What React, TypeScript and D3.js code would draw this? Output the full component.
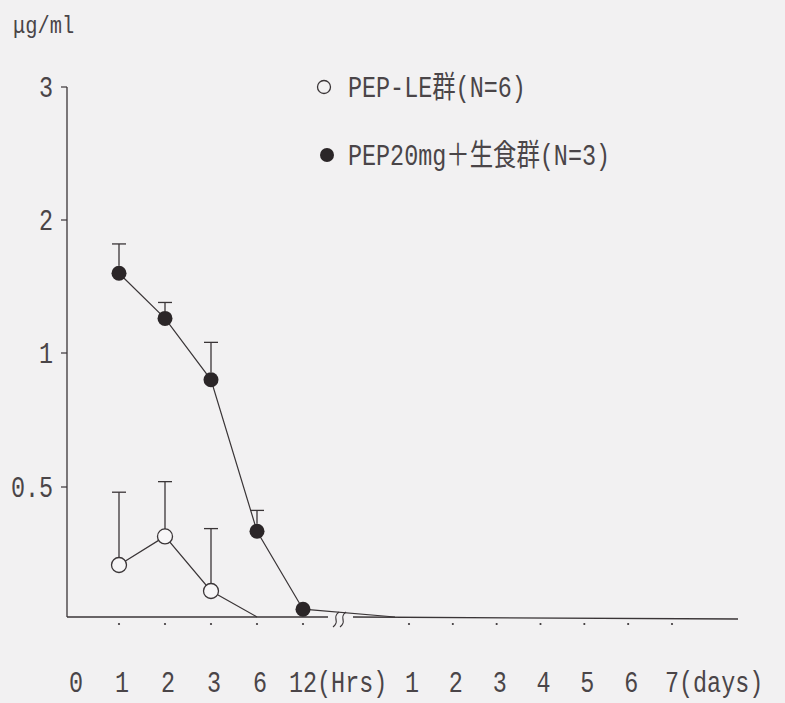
import React from 'react';
import * as d3 from 'd3';

// x categories
const hourTicks = ['0', '1', '2', '3', '6', '12'];
const dayTicks = ['1', '2', '3', '4', '5', '6', '7'];

// y ticks (axis is stretched: equal spacing between 0, 0.5, 1, 2, 3)
const yTicks = [0.5, 1, 2, 3];
const yTickLabels = ['0.5', '1', '2', '3'];

// PEP20mg + 生食群 (filled)
const fullHours = ['1', '2', '3', '6', '12'];
const fullMean = [1.6, 1.26, 0.9, 0.33, 0.03];
const fullSD = [0.22, 0.12, 0.18, 0.08, 0];
const fullTailDays = ['1'];
const fullTailMean = [0];

// PEP-LE群 (open)
const openHours = ['1', '2', '3', '6'];
const openMean = [0.2, 0.31, 0.1, 0];
const openSD = [0.28, 0.21, 0.24, 0];

const legendLabels = ['PEP-LE群(N=6)', 'PEP20mg＋生食群(N=3)'];

const W = 785;
const H = 703;
const ink = '#3a3537';
const textInk = '#4a4548';
const font = '"Liberation Mono", "Noto Sans CJK JP", monospace';
const charW = 14;

const xHours = d3.scalePoint<string>().domain(hourTicks).range([73, 303]);
const xDays = d3.scalePoint<string>().domain(dayTicks).range([409, 672]);
const y = d3.scaleLinear().domain([0, 0.5, 1, 2, 3]).range([617, 487, 353, 220, 87]);

const axisX = 67;
const axisEnd = 738;
const breakX = 340;

const Txt = ({ x, y, children, anchor = 'start', size = 30, sx = 0.78 }: any) => (
  <text
    transform={`translate(${x},${y}) scale(${sx},1)`}
    textAnchor={anchor}
    fontFamily={font}
    fontSize={size}
    fill={textInk}
  >
    {children}
  </text>
);

export default function App() {
  const line = d3.line<[number, number]>().x((d) => d[0]).y((d) => d[1]);

  const fullPts: [number, number][] = fullHours
    .map((h, i) => [xHours(h)!, y(fullMean[i])] as [number, number])
    .concat(fullTailDays.map((d, i) => [xDays(d)! - 14, y(fullTailMean[i])] as [number, number]));
  const openPts: [number, number][] = openHours.map((h, i) => [xHours(h)!, y(openMean[i])]);

  const errBar = (x: number, m: number, sd: number, r: number, key: string) =>
    sd > 0 ? (
      <g key={key} stroke={ink} strokeWidth={1.3}>
        <line x1={x} x2={x} y1={y(m) - r} y2={y(m + sd)} />
        <line x1={x - 7} x2={x + 7} y1={y(m + sd)} y2={y(m + sd)} />
      </g>
    ) : null;

  const tickXs = hourTicks.slice(1).map((h) => xHours(h)!).concat(dayTicks.map((d) => xDays(d)!));

  return (
    <svg width={W} height={H} style={{ position: 'absolute', left: 0, top: 0, background: '#f2f1f2' }}>
      <rect width={W} height={H} fill="#f2f1f2" />

      {/* unit */}
      <Txt x={13} y={33} size={24} sx={0.85}>
        μg/ml
      </Txt>

      {/* y axis */}
      <line x1={axisX} x2={axisX} y1={y(3)} y2={y(0)} stroke={ink} strokeWidth={1.3} />
      {yTicks.map((t, i) => (
        <g key={t}>
          <line x1={axisX - 6} x2={axisX} y1={y(t)} y2={y(t)} stroke={ink} strokeWidth={1.2} />
          <Txt x={53} y={y(t) + 10} anchor="end">
            {yTickLabels[i]}
          </Txt>
        </g>
      ))}

      {/* x axis with break */}
      <line x1={axisX} x2={breakX - 12} y1={y(0)} y2={y(0)} stroke={ink} strokeWidth={1.3} />
      <line x1={breakX + 13} x2={axisEnd} y1={y(0)} y2={y(0) + 2} stroke={ink} strokeWidth={1.3} />
      <g fill="none" stroke={ink} strokeWidth={1.2}>
        {[-4, 3].map((dx) => (
          <path
            key={dx}
            d={`M${breakX + dx + 3},${y(0) - 5} C${breakX + dx - 5},${y(0) + 1} ${breakX + dx + 5},${y(0) + 4} ${breakX + dx - 3},${y(0) + 10}`}
          />
        ))}
      </g>
      {tickXs.map((tx, i) => (
        <circle key={i} cx={tx} cy={y(0) + 7} r={1.1} fill={ink} />
      ))}

      {/* x labels */}
      {hourTicks.map((h) =>
        h === '12' ? (
          <Txt key={h} x={xHours(h)! - charW} y={692}>
            12(Hrs)
          </Txt>
        ) : (
          <Txt key={h} x={xHours(h)! + 3} y={692} anchor="middle">
            {h}
          </Txt>
        )
      )}
      {dayTicks.map((d) =>
        d === '7' ? (
          <Txt key={d} x={xDays(d)! - charW / 2} y={692}>
            7(days)
          </Txt>
        ) : (
          <Txt key={d} x={xDays(d)! + 3} y={692} anchor="middle">
            {d}
          </Txt>
        )
      )}

      {/* series lines */}
      <path d={line(fullPts)!} fill="none" stroke={ink} strokeWidth={1.2} />
      <path d={line(openPts)!} fill="none" stroke={ink} strokeWidth={1.2} />

      {/* error bars */}
      {fullHours.map((h, i) => errBar(xHours(h)!, fullMean[i], fullSD[i], 7.5, 'fe' + i))}
      {openHours.map((h, i) => errBar(xHours(h)!, openMean[i], openSD[i], 7.5, 'oe' + i))}

      {/* markers */}
      {fullHours.map((h, i) => (
        <circle key={'f' + i} cx={xHours(h)!} cy={y(fullMean[i])} r={7.5} fill="#2b2628" />
      ))}
      {openHours.slice(0, 3).map((h, i) => (
        <circle
          key={'o' + i}
          cx={xHours(h)!}
          cy={y(openMean[i])}
          r={7.5}
          fill="#f7f6f7"
          stroke={ink}
          strokeWidth={1.3}
        />
      ))}

      {/* legend */}
      <circle cx={324} cy={87} r={6.5} fill="none" stroke={ink} strokeWidth={1.3} />
      <Txt x={348} y={97}>
        {legendLabels[0]}
      </Txt>
      <circle cx={327} cy={155} r={7} fill="#2b2628" />
      <Txt x={348} y={165}>
        {legendLabels[1]}
      </Txt>
    </svg>
  );
}
